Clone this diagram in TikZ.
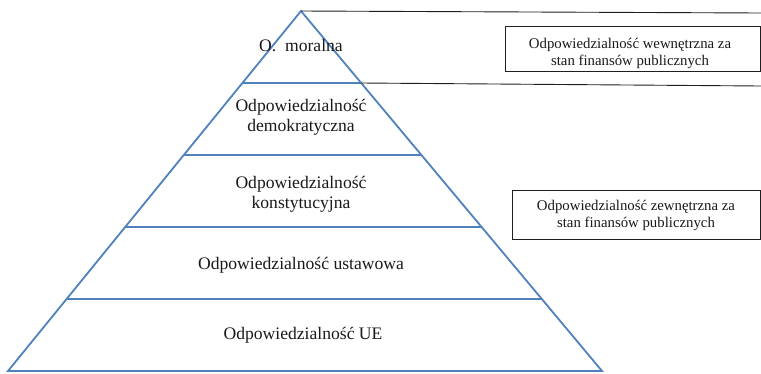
\documentclass[tikz,border=0pt]{standalone}
\usepackage{fontspec}
\setmainfont{Liberation Serif}
\usetikzlibrary{calc}
\definecolor{pyrblue}{RGB}{79,129,189}
\definecolor{linegray}{RGB}{30,30,30}
\begin{document}
\begin{tikzpicture}[x=1pt,y=-1pt,
  pyr/.style={draw=pyrblue,line width=1.8pt},
  lvl/.style={align=center,font=\fontsize{17.6}{20}\selectfont,text=black!90},
  infobox/.style={draw=linegray,line width=0.9pt},
  infotext/.style={align=center,font=\fontsize{14.8}{17}\selectfont,text=black!90},
  link/.style={draw=linegray,line width=0.9pt}]
\useasboundingbox (0,0) rectangle (761,373);
\coordinate (A) at (301,11);
\coordinate (BL) at (8,371);
\coordinate (BR) at (602,371);
\foreach \t/\n in {0.2/1,0.4/2,0.6/3,0.8/4}{
  \coordinate (L\n) at ($(A)!\t!(BL)$);
  \coordinate (R\n) at ($(A)!\t!(BR)$);
}
\draw[pyr] (A) -- (BL) -- (BR) -- cycle;
\draw[pyr] (L1) -- (R1);
\draw[pyr] (L2) -- (R2);
\draw[pyr] (L3) -- (R3);
\draw[pyr] (L4) -- (R4);
\node[lvl] (moral) at (301,46) {O.\ \ moralna};
\node[lvl] (demo) at (301,117) {Odpowiedzialność\\demokratyczna};
\node[lvl] (konst) at (301,194) {Odpowiedzialność\\konstytucyjna};
\node[lvl] (ustaw) at (301,265) {Odpowiedzialność ustawowa};
\node[lvl] (ue) at (303,335) {Odpowiedzialność UE};
% boxes
\draw[infobox] (505,26) rectangle (760,71);
\node[infotext] (wewn) at (630,53) {Odpowiedzialność wewnętrzna za\\stan finansów publicznych};
\draw[infobox] (512,190) rectangle (760,239);
\node[infotext] (zewn) at (636,215) {Odpowiedzialność zewnętrzna za\\stan finansów publicznych};
% links
\coordinate (E1) at (761,13);
\coordinate (E2) at (761,86);
\draw[link] (A) -- (E1);
\draw[link] (R1) -- (E2);
\end{tikzpicture}
\end{document}
